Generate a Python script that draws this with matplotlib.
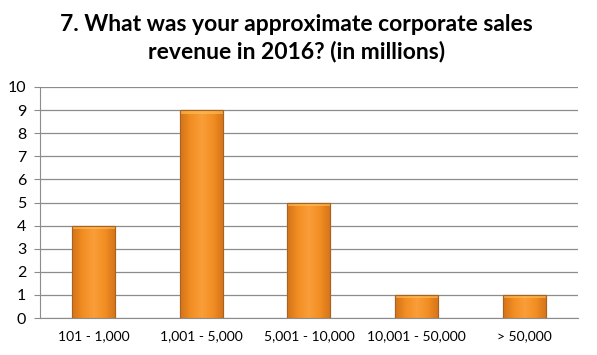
import matplotlib
matplotlib.use("Agg")
import matplotlib.pyplot as plt
import numpy as np

categories = ["101 - 1,000", "1,001 - 5,000", "5,001 - 10,000", "10,001 - 50,000", "> 50,000"]
values = [4, 9, 5, 1, 1]
title = "7. What was your approximate corporate sales\nrevenue in 2016? (in millions)"

plt.rcParams['font.family'] = ['Lato', 'DejaVu Sans']

fig = plt.figure(figsize=(5.97, 3.55), dpi=100)
ax = fig.add_axes([0.067, 0.104, 0.901, 0.651])

x = np.arange(len(categories))
bars = ax.bar(x, values, width=0.4, color='#F7931E', edgecolor='#A8641E', linewidth=0.8, zorder=3)

# horizontal gradient inside each bar
cmap = matplotlib.colors.LinearSegmentedColormap.from_list(
    'org', ['#D4721A', '#F28E22', '#FA9E3A', '#F28E22', '#D4721A'])
grad = np.linspace(0, 1, 256).reshape(1, -1)
for b in bars:
    x0, y0 = b.get_x(), b.get_y()
    w, h = b.get_width(), b.get_height()
    im = ax.imshow(grad, cmap=cmap, aspect='auto', extent=(x0, x0 + w, y0, y0 + h), zorder=3.5)
    im.set_clip_path(b)
    # top highlight
    ax.fill_between([x0, x0 + w], y0 + h - 0.15, y0 + h, color='#FFC25A', alpha=0.6, zorder=3.6, linewidth=0)
    ax.add_patch(plt.Rectangle((x0, y0), w, h, fill=False, edgecolor='#A8641E', linewidth=0.8, zorder=3.7))

ax.set_xlim(-0.5, len(categories) - 0.5)
ax.set_ylim(0, 10)
ax.set_yticks(range(0, 11))
ax.set_xticks(x)
ax.set_xticklabels(categories, fontsize=10)
ax.tick_params(axis='y', labelsize=11.5, length=4, color='#8c8c8c', pad=6)
ax.tick_params(axis='x', length=0, pad=9)
ax.yaxis.grid(True, color='#8c8c8c', linewidth=0.9, zorder=0)
ax.set_axisbelow(True)
for s in ['top', 'right']:
    ax.spines[s].set_visible(False)
ax.spines['left'].set_color('#8c8c8c')
ax.spines['bottom'].set_color('#8c8c8c')

fig.text(0.497, 0.96, title, ha='center', va='top', fontsize=16.5, fontweight='bold', linespacing=1.3)

fig.savefig('out.png', dpi=100)
